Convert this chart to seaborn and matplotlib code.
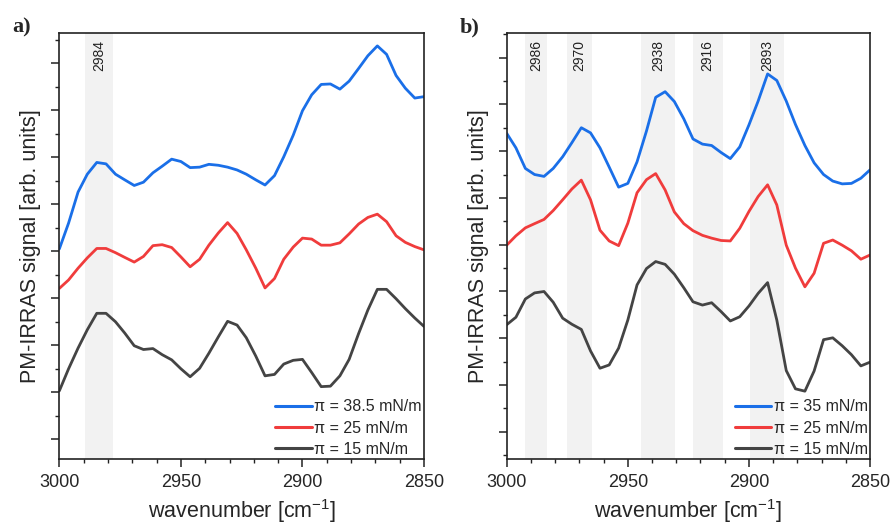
import matplotlib

matplotlib.use('Agg')
import matplotlib.pyplot as plt
import matplotlib.transforms as mtransforms
from matplotlib.ticker import MultipleLocator
import seaborn as sns
import pandas as pd

# wavenumber grid [cm-1], shared by all spectra
wavenumber = [3000.0, 2996.2, 2992.3, 2988.5, 2984.6, 2980.8, 2976.9, 2973.1, 2969.2, 2965.4,
              2961.5, 2957.7, 2953.8, 2950.0, 2946.2, 2942.3, 2938.5, 2934.6, 2930.8, 2926.9,
              2923.1, 2919.2, 2915.4, 2911.5, 2907.7, 2903.8, 2900.0, 2896.2, 2892.3, 2888.5,
              2884.6, 2880.8, 2876.9, 2873.1, 2869.2, 2865.4, 2861.5, 2857.7, 2853.8, 2850.0]

# panel a) spectra (arb. units, offset)
a_385 = [5.05, 5.60, 6.26, 6.64, 6.89, 6.86, 6.64, 6.52, 6.40, 6.47,
         6.67, 6.81, 6.96, 6.91, 6.78, 6.79, 6.85, 6.83, 6.79, 6.73,
         6.64, 6.52, 6.41, 6.61, 7.01, 7.47, 7.99, 8.33, 8.55, 8.56,
         8.45, 8.62, 8.89, 9.16, 9.37, 9.19, 8.74, 8.47, 8.26, 8.29]
a_25 = [4.21, 4.39, 4.64, 4.86, 5.06, 5.06, 4.97, 4.87, 4.77, 4.89,
        5.12, 5.14, 5.08, 4.88, 4.67, 4.83, 5.13, 5.39, 5.61, 5.38,
        5.03, 4.64, 4.22, 4.42, 4.83, 5.09, 5.28, 5.26, 5.13, 5.13,
        5.18, 5.37, 5.58, 5.72, 5.79, 5.63, 5.33, 5.19, 5.10, 5.03]
a_15 = [2.03, 2.50, 2.94, 3.33, 3.68, 3.68, 3.50, 3.26, 2.99, 2.91,
        2.93, 2.80, 2.69, 2.50, 2.33, 2.51, 2.83, 3.18, 3.51, 3.43,
        3.16, 2.77, 2.35, 2.38, 2.60, 2.68, 2.70, 2.42, 2.12, 2.13,
        2.35, 2.70, 3.25, 3.75, 4.19, 4.19, 3.99, 3.78, 3.58, 3.40]

# panel b) spectra
b_35 = [7.38, 7.07, 6.63, 6.50, 6.46, 6.63, 6.88, 7.18, 7.50, 7.39,
        7.07, 6.66, 6.23, 6.31, 6.77, 7.43, 8.15, 8.27, 8.06, 7.69,
        7.26, 7.15, 7.12, 6.97, 6.84, 7.09, 7.56, 8.07, 8.65, 8.51,
        8.07, 7.57, 7.12, 6.75, 6.50, 6.36, 6.30, 6.31, 6.42, 6.60]
b_25 = [4.99, 5.19, 5.36, 5.45, 5.54, 5.73, 5.96, 6.19, 6.38, 5.96,
        5.31, 5.08, 4.98, 5.46, 6.11, 6.39, 6.52, 6.17, 5.70, 5.45,
        5.30, 5.20, 5.14, 5.09, 5.08, 5.35, 5.71, 6.03, 6.28, 5.85,
        4.99, 4.50, 4.10, 4.39, 5.03, 5.10, 4.99, 4.87, 4.69, 4.78]
b_15 = [3.29, 3.45, 3.84, 3.97, 4.00, 3.77, 3.43, 3.30, 3.19, 2.73,
        2.36, 2.43, 2.79, 3.39, 4.14, 4.49, 4.64, 4.58, 4.37, 4.08,
        3.78, 3.71, 3.76, 3.57, 3.37, 3.46, 3.69, 3.96, 4.19, 3.39,
        2.31, 1.92, 1.87, 2.30, 2.97, 3.01, 2.84, 2.65, 2.41, 2.49]

a_labels = ['\u03c0 = 38.5 mN/m', '\u03c0 = 25 mN/m', '\u03c0 = 15 mN/m']
b_labels = ['\u03c0 = 35 mN/m', '\u03c0 = 25 mN/m', '\u03c0 = 15 mN/m']
colors = ['#1a6fe8', '#f03c3c', '#444444']

# highlighted bands: (high, low) wavenumber and label
a_bands = [(2989.4, 2977.8, '2984')]
b_bands = [(2992.4, 2983.5, '2986'), (2975.0, 2964.9, '2970'), (2944.5, 2930.5, '2938'),
           (2923.3, 2910.9, '2916'), (2899.5, 2885.7, '2893')]

sns.set_style('ticks')
plt.rcParams['font.family'] = ['Liberation Sans', 'DejaVu Sans']
plt.rcParams['mathtext.fontset'] = 'custom'
plt.rcParams['mathtext.rm'] = 'Liberation Sans'
plt.rcParams['mathtext.it'] = 'Liberation Sans'

fig = plt.figure(figsize=(8.91, 5.27), dpi=100)
ax_a = fig.add_axes([0.0666, 0.129, 0.4093, 0.808])
ax_b = fig.add_axes([0.5687, 0.129, 0.4078, 0.808])


def draw_panel(ax, series, labels, bands, ylim, tag):
    frames = []
    for values, label in zip(series, labels):
        frames.append(pd.DataFrame({'wavenumber': wavenumber, 'signal': values, 'film': label}))
    df = pd.concat(frames)

    for hi, lo, text in bands:
        ax.axvspan(lo, hi, color='#f2f2f2', lw=0, zorder=0)
        trans = mtransforms.blended_transform_factory(ax.transData, ax.transAxes)
        ax.text((hi + lo) / 2, 0.983, text, rotation=90, ha='center', va='top',
                fontsize=10, color='#222222', transform=trans)

    sns.lineplot(data=df, x='wavenumber', y='signal', hue='film', hue_order=labels,
                 palette=colors, linewidth=2.0, ax=ax, legend=True)

    ax.set_xlim(3000, 2850)
    ax.set_ylim(*ylim)
    ax.xaxis.set_major_locator(MultipleLocator(50))
    ax.xaxis.set_minor_locator(MultipleLocator(10))
    ax.yaxis.set_major_locator(MultipleLocator(1))
    ax.yaxis.set_minor_locator(MultipleLocator(0.5))
    ax.set_yticklabels([])
    ax.tick_params(axis='both', which='major', length=6, width=1.1, color='#222222',
                   labelsize=13, pad=5)
    ax.tick_params(axis='both', which='minor', length=3, width=1.0, color='#222222')
    for spine in ax.spines.values():
        spine.set_linewidth(1.2)
        spine.set_color('#222222')
    ax.set_xlabel('wavenumber [cm$^{-1}$]', fontsize=15.5, labelpad=4)
    ax.set_ylabel('PM-IRRAS signal [arb. units]', fontsize=15.5, labelpad=2)

    leg = ax.legend(loc='lower right', frameon=False, fontsize=11.5, handlelength=2.3,
                    handletextpad=0.15, labelspacing=0.38, borderpad=0.0, borderaxespad=0.15)
    for line in leg.get_lines():
        line.set_linewidth(2.2)

    ax.text(-0.13, 1.037, tag, transform=ax.transAxes, fontsize=16, fontweight='bold',
            family='Liberation Serif', ha='left', va='top')


draw_panel(ax_a, [a_385, a_25, a_15], a_labels, a_bands, (0.58, 9.64), 'a)')
draw_panel(ax_b, [b_35, b_25, b_15], b_labels, b_bands, (0.42, 9.52), 'b)')

fig.savefig('out.png', dpi=100)
